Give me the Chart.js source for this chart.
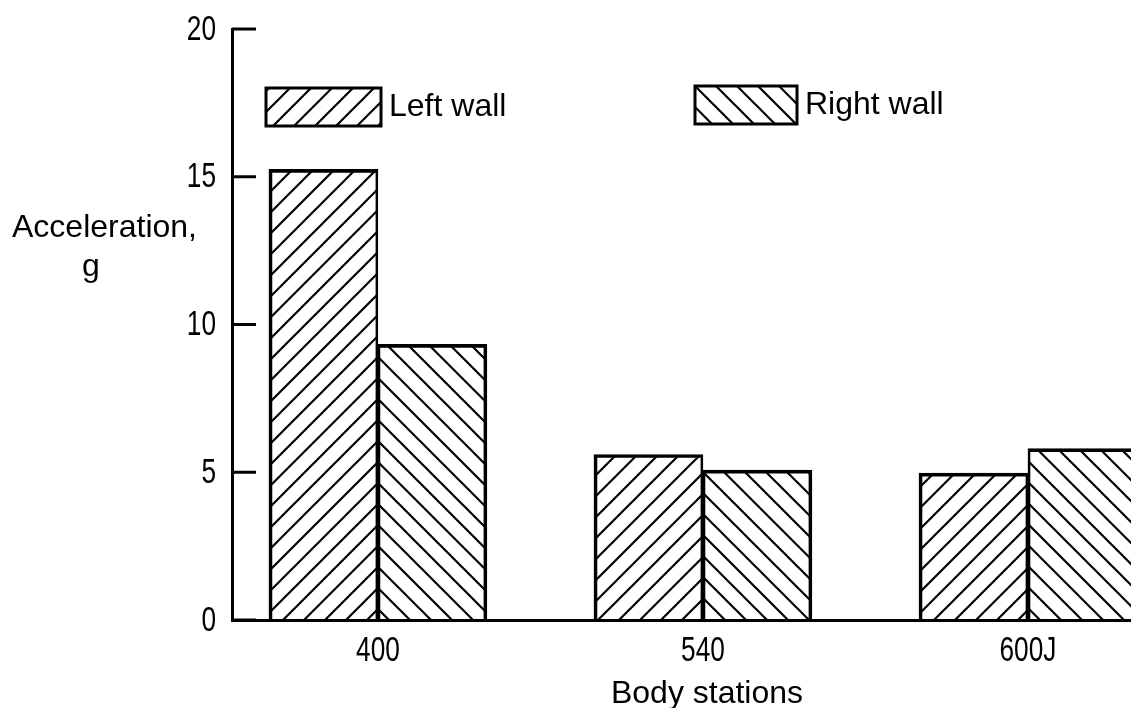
<!DOCTYPE html>
<html>
<head>
<meta charset="utf-8">
<script src="https://cdn.jsdelivr.net/npm/chart.js@4"></script>
<style>
    html, body { margin: 0; padding: 0; background: #fff; overflow: hidden; }
    #wrap { position: relative; width: 1131px; height: 708px; }
</style>
</head>
<body>
<div id="wrap"><canvas id="barChart" width="1131" height="708"></canvas></div>
<script>
// Data
const stations = ['400', '540', '600J'];
const leftWall = [15.25, 5.6, 4.97];
const rightWall = [9.33, 5.07, 5.8];
const yTicks = [0, 5, 10, 15, 20];
const seriesNames = ['Left wall', 'Right wall'];

const FONT = "'Liberation Sans', Arial, sans-serif";

// Hatch fill: dir 1 = '/', dir -1 = '\'
function hatch(dir) {
    const s = 21;
    const c = document.createElement('canvas');
    c.width = s;
    c.height = s;
    const g = c.getContext('2d');
    g.strokeStyle = '#000';
    g.lineWidth = 2.2;
    g.beginPath();
    if (dir > 0) {
        g.moveTo(-2, s + 2); g.lineTo(s + 2, -2);
        g.moveTo(-2, 2); g.lineTo(2, -2);
        g.moveTo(s - 2, s + 2); g.lineTo(s + 2, s - 2);
    } else {
        g.moveTo(-2, -2); g.lineTo(s + 2, s + 2);
        g.moveTo(-2, s - 2); g.lineTo(2, s + 2);
        g.moveTo(s - 2, -2); g.lineTo(s + 2, 2);
    }
    g.stroke();
    return g.createPattern(c, 'repeat');
}

const leftFill = hatch(1);
const rightFill = hatch(-1);

// narrow-looking numerals: squeeze text horizontally around an anchor
function squeezed(ctx, text, x, y, align) {
    ctx.save();
    ctx.font = '35px ' + FONT;
    ctx.translate(x, y);
    ctx.scale(0.75, 1);
    ctx.textAlign = align;
    ctx.fillText(text, 0, 0);
    ctx.restore();
}

// Inward ticks, tick labels, axis titles and in-plot legend
const extras = {
    id: 'extras',
    afterDraw(chart) {
        const ctx = chart.ctx;
        const x = chart.scales.x;
        const y = chart.scales.y;
        const area = chart.chartArea;
        ctx.save();
        ctx.strokeStyle = '#000';
        ctx.fillStyle = '#000';
        ctx.lineWidth = 3;
        ctx.font = '32px ' + FONT;
        ctx.textBaseline = 'middle';
        yTicks.forEach(v => {
            const py = y.getPixelForValue(v);
            ctx.beginPath();
            ctx.moveTo(area.left, py);
            ctx.lineTo(area.left + 24, py);
            ctx.stroke();
            squeezed(ctx, String(v), area.left - 16, py + 1, 'right');
        });
        stations.forEach((s, i) => {
            squeezed(ctx, s, x.getPixelForValue(i), area.bottom + 31, 'center');
        });

        ctx.textBaseline = 'alphabetic';
        ctx.textAlign = 'center';
        ctx.fillText('Body stations', 707, 703);
        ctx.textAlign = 'left';
        ctx.fillText('Acceleration,', 12, 237);
        ctx.textAlign = 'center';
        ctx.fillText('g', 91, 276);

        // legend
        const boxes = [
            { x: 266, y: 88, w: 115, h: 38, fill: leftFill, label: seriesNames[0] },
            { x: 695, y: 86, w: 102, h: 38, fill: rightFill, label: seriesNames[1] }
        ];
        boxes.forEach(b => {
            ctx.fillStyle = b.fill;
            ctx.fillRect(b.x, b.y, b.w, b.h);
            ctx.lineWidth = 3;
            ctx.strokeRect(b.x, b.y, b.w, b.h);
            ctx.fillStyle = '#000';
            ctx.textAlign = 'left';
            ctx.textBaseline = 'middle';
            ctx.fillText(b.label, b.x + b.w + 8, b.y + b.h / 2);
        });
        ctx.restore();
    }
};

const chart = new Chart(document.getElementById('barChart'), {
    type: 'bar',
    data: {
        datasets: [{
            label: seriesNames[0],
            data: leftWall.map((v, i) => ({ x: i, y: v })),
            backgroundColor: leftFill,
            borderColor: '#000',
            borderWidth: { top: 3, left: 3, right: 2, bottom: 0 },
            borderSkipped: false,
            barThickness: 109
        }, {
            label: seriesNames[1],
            data: rightWall.map((v, i) => ({ x: i, y: v })),
            backgroundColor: rightFill,
            borderColor: '#000',
            borderWidth: { top: 3, left: 2, right: 3, bottom: 0 },
            borderSkipped: false,
            barThickness: 109
        }]
    },
    options: {
        responsive: false,
        animation: false,
        layout: { padding: { top: 29, right: 0, bottom: 0, left: 0 } },
        plugins: {
            legend: { display: false },
            tooltip: { enabled: false }
        },
        scales: {
            x: {
                type: 'linear',
                offset: false,
                min: -0.449,
                max: 2.317,
                grid: { display: false, drawTicks: false, offset: false },
                border: { display: true, color: '#000', width: 3 },
                afterBuildTicks: s => { s.ticks = stations.map((_, i) => ({ value: i })); },
                afterFit: s => { s.height = 88; },
                ticks: { display: false }
            },
            y: {
                min: 0,
                max: 20,
                grid: { display: false, drawTicks: false },
                border: { display: true, color: '#000', width: 3 },
                afterBuildTicks: s => { s.ticks = yTicks.map(v => ({ value: v })); },
                afterFit: s => { s.width = 232; },
                ticks: { display: false }
            }
        }
    },
    plugins: [extras]
});
</script>
</body>
</html>
